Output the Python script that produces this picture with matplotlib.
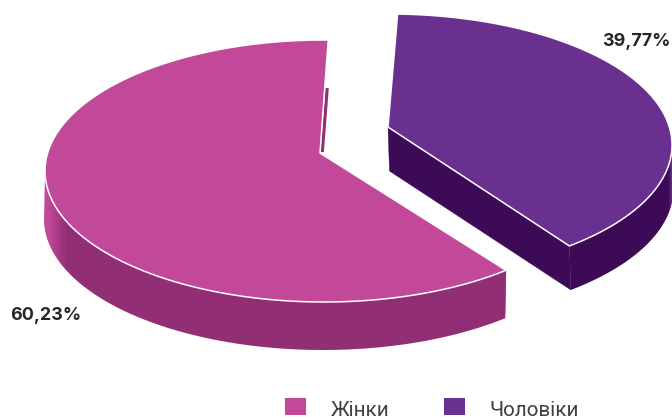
import numpy as np
import matplotlib
matplotlib.use("Agg")
import matplotlib.pyplot as plt
from matplotlib.colors import to_rgb
from matplotlib.patches import Patch, Polygon

categories = ["Жінки", "Чоловіки"]
shares = [60.23, 39.77]
top_colors = ["#C2489A", "#69308F"]
side_colors = ["#922F74", "#3D0A57"]

start_angle = 89.0
persp = 0.137  # how far the disk centre sits above the ellipse centre


def warp(theta):
  # perspective: disk angle (deg) -> point on unit ellipse
  t = np.radians(theta)
  x, y = np.cos(t), np.sin(t)
  d = 1 + persp * y
  return x * np.sqrt(1 - persp ** 2) / d, (y + persp) / d


def wall_shade(ax, poly, x0, x1, light, side, fade):
  # horizontal gradient clipped to the wall shape
  xs = np.linspace(x0, x1, 400)
  c1, c2 = np.array(to_rgb(light)), np.array(to_rgb(side))
  f = np.clip(fade(xs), 0, 1)[:, None]
  img = (c1 + (c2 - c1) * f)[None, :, :]
  ys = [p[1] for p in poly]
  im = ax.imshow(img, extent=(x0, x1, max(ys), min(ys)), aspect="auto", zorder=2, interpolation="bilinear")
  patch = Polygon(poly, closed=True, transform=ax.transData, facecolor="none", edgecolor="none")
  ax.add_patch(patch)
  im.set_clip_path(patch)


def draw_slice(ax, a1, a2, cx, cy, rx, ry, depth, top, side, light, fade, apex_dx, face, sliver=False):
  th = np.linspace(a1, a2, 400)
  ux, uy = warp(th)
  x = cx + rx * ux
  y = cy - ry * uy
  ax0 = cx + apex_dx
  ay0 = cy - ry * persp

  # cut face that looks at the viewer
  ax.add_patch(Polygon([(ax0, ay0), (x[face], y[face]), (x[face] + depth[0], y[face] + depth[1]), (ax0 + depth[0], ay0 + depth[1])],
                       facecolor=side, edgecolor=side, lw=0.3, zorder=2.5))
  if sliver:
    # thin strip of the far cut face showing next to the start edge
    f = depth[1] / (ay0 - y[0])
    ax.plot([x[0] + (ax0 - x[0]) * f + 2.4, ax0 + 2.2], [y[0] + depth[1], ay0 - 1], color=side, lw=2.4,
            solid_capstyle="butt", zorder=1)

  # outer wall, only the part that faces the viewer
  keep = uy < 0.03
  wx, wy = x[keep], y[keep]
  poly = list(zip(wx, wy)) + list(zip(wx[::-1] + depth[0], wy[::-1] + depth[1]))
  wall_shade(ax, poly, wx.min() - 3, wx.max() + 3, light, side, fade)

  pts = [(ax0, ay0)] + list(zip(x, y))
  ax.add_patch(Polygon(pts, closed=True, facecolor=top, edgecolor="white", lw=1.1, joinstyle="miter", zorder=3))


fig = plt.figure(figsize=(6.72, 4.19), dpi=100)
ax = fig.add_axes([0, 0, 1, 1])

sweep = [360 * s / sum(shares) for s in shares]

# men first, women go over it; the pulled out slice sits 1 degree round
draw_slice(ax, start_angle + sweep[0] - 1, start_angle + 359, 389, 145, 283, 131, (1.5, 44),
           top_colors[1], side_colors[1], "#6A3A8C", lambda v: (672.5 - v) / 4, apex_dx=-1, face=0)
draw_slice(ax, start_angle, start_angle + sweep[0], 324, 171, 279, 131, (-1, 48),
           top_colors[0], side_colors[0], "#C2489A", lambda v: (v - 48) / 18, apex_dx=-4, face=-1, sliver=True)

ax.set_xlim(0, 672)
ax.set_ylim(419, 0)
ax.axis("off")

for s, (lx, ly) in zip(shares, [(10, 315), (602, 42)]):
  ax.text(lx, ly, f"{s:.2f}%".replace(".", ","), fontsize=12.9, fontweight="bold", family="Inter",
          color="#262626", ha="left", va="center")

handles = [Patch(facecolor=c, edgecolor="none", label=n) for c, n in zip(top_colors, categories)]
leg = ax.legend(handles=handles, ncol=2, loc="lower left", bbox_to_anchor=(285, 420), bbox_transform=ax.transData,
                frameon=False, borderpad=0, borderaxespad=0, handlelength=1.02, handleheight=0.88, handletextpad=1.18,
                columnspacing=2.65, labelcolor="#404040", prop={"family": "Roboto", "size": 14.9})
for p in leg.get_patches():
  p.set_y(p.get_y() + 2)

plt.savefig("out.png", dpi=100)
plt.close()
